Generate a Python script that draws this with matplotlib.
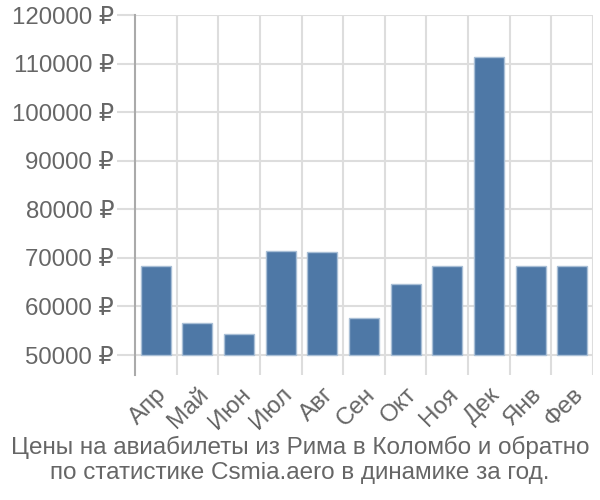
import matplotlib
matplotlib.use("Agg")
import matplotlib.pyplot as plt
import numpy as np

plt.rcParams['font.family'] = ['Liberation Sans', 'DejaVu Sans']

months = ["Апр", "Май", "Июн", "Июл", "Авг", "Сен", "Окт", "Ноя", "Дек", "Янв", "Фев"]
prices = [68300, 56600, 54300, 71400, 71200, 57700, 64600, 68300, 111300, 68300, 68300]
yticks = [50000, 60000, 70000, 80000, 90000, 100000, 110000, 120000]
title = "Цены на авиабилеты из Рима в Коломбо и обратно\nпо статистике Csmia.aero в динамике за год."

fig = plt.figure(figsize=(6, 5), dpi=100)
ax = fig.add_axes([135/600, 1-375/500, (593-135)/600, (375-15)/500])

base = 50000
x = np.arange(len(months))
ax.bar(x, np.array(prices) - base, bottom=base, width=0.72,
       color="#4e78a6", edgecolor="#a9bfd6", linewidth=1, zorder=3)

ax.set_xlim(-0.5, len(months) - 0.5)
ax.set_ylim(base - 20 * 70000 / 340, 120000)

ax.set_yticks(yticks)
ax.set_yticklabels([f"{v} ₽" for v in yticks])
for v in yticks:
    ax.axhline(v, color="#dddddd", linewidth=1.5, zorder=1)
for b in np.arange(0.5, len(months), 1):
    ax.axvline(b, color="#dddddd", linewidth=1.5, zorder=1)

ax.set_xticks(x)
ax.set_xticklabels(months, rotation=45, ha="right", rotation_mode="anchor")
ax.tick_params(axis="x", length=0, pad=6, labelsize=17.5, labelcolor="#666666")
ax.tick_params(axis="y", length=13, width=1.5, color="#dddddd", pad=2,
               labelsize=17.3, labelcolor="#666666")

for s in ["top", "right", "bottom"]:
    ax.spines[s].set_visible(False)
ax.spines["left"].set_color("#aaaaaa")
ax.spines["left"].set_linewidth(1.5)

fig.text(0.5, 1 - 460/500, title, ha="center", va="center", fontsize=17.5,
         color="#666666", linespacing=1.2)

fig.savefig("out.png", dpi=100)
